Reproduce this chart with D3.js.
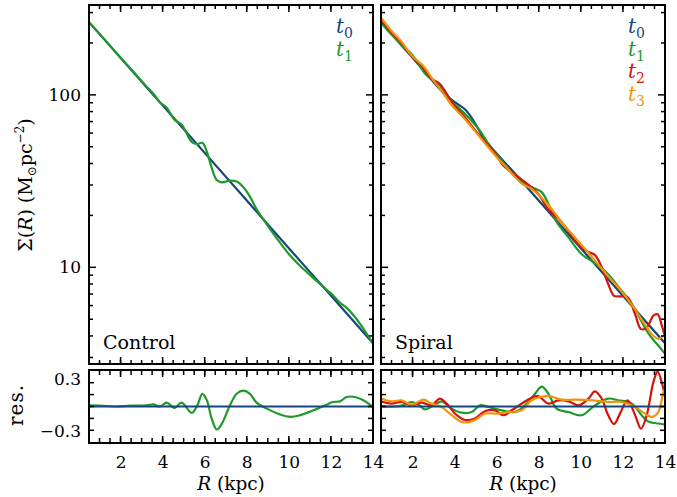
<!DOCTYPE html>
<html><head><meta charset="utf-8">
<script src="https://cdn.jsdelivr.net/npm/d3@7"></script>
<style>body{margin:0;background:#fff}svg{display:block}text{font-family:"DejaVu Serif",serif;fill:#000}</style>
</head><body>
<svg id="c" width="677" height="497"></svg>
<script>
// ---------- data ----------
const xTickLabels = [2, 4, 6, 8, 10, 12, 14];
const yTickLabels = [10, 100];
const resTickLabels = [0.3, -0.3];
const seriesNames = ["t0", "t1", "t2", "t3"];

// Control run
const controlT0R = [0.5, 2, 4, 6, 8, 10, 12, 14];
const controlT0 = [264, 164, 86.9, 46.1, 24.4, 12.9, 6.86, 3.63];
const controlR = [0.5,1.34,1.8,2.45,3.24,3.56,3.88,4.19,4.56,4.9,5.38,5.65,5.89,6.1,6.33,6.57,6.81,7.2,7.52,7.84,8.15,8.47,8.95,9.58,10.06,10.53,11.17,11.8,12.1,12.43,12.75,13.15,13.54,14.0];
const controlT1 = [264,202.9,174.8,143.0,111.6,101.6,90.3,84.4,71.8,67.3,53.4,51.9,52.7,46.9,37.8,32.1,31.1,31.8,31.4,29.1,25.7,21.7,17.76,13.89,11.71,10.21,8.66,7.41,6.88,6.23,5.82,5.13,4.41,3.62];
const controlRes1 = [0.015,0.006,0,0.01,0.015,0.027,0,0.05,-0.02,0.048,-0.08,0.015,0.16,0.08,-0.15,-0.29,-0.22,0.015,0.16,0.2,0.16,0.048,-0.027,-0.1,-0.13,-0.11,-0.048,0.023,0.057,0.065,0.12,0.12,0.078,-0.006];

// Spiral run
const spiralT0R = [0.5, 2, 3.5, 3.9, 4.2, 4.5, 4.8, 5.1, 5.4, 7, 10, 14];
const spiralT0 = [264, 164, 101.9, 92.9, 87.4, 82.3, 73.9, 64.2, 55.7, 33.5, 12.9, 3.63];
const spiralR1 = [0.5,1.17,1.64,1.96,2.27,2.59,3.07,3.38,3.86,4.33,4.81,5.2,5.6,6.24,6.87,7.35,7.82,8.14,8.46,8.85,9.41,10.04,10.67,11.3,11.78,12.42,12.89,13.2,13.84,14];
const spiralT1 = [262,213,186.5,172.1,152.7,133.0,118.5,110.2,91.9,81.0,70.6,62.0,52.1,41.4,33.5,30.3,28.6,27.3,23.3,18.3,14.9,11.9,10.56,9.11,7.72,6.14,4.83,4.16,3.33,3.15];
const spiralRes1 = [0.006,0,0.023,0.057,0.023,-0.036,0.023,0.065,-0.027,-0.078,-0.07,0.015,-0.006,-0.048,-0.07,0.015,0.16,0.25,0.16,-0.027,-0.07,-0.11,0.015,0.1,0.078,0.036,-0.11,-0.19,-0.22,-0.23];
const spiralR2 = [0.5,1.0,1.48,1.96,2.43,2.9,3.3,3.62,4.02,4.49,4.97,5.44,5.92,6.31,6.71,7.19,7.66,7.98,8.46,8.93,9.41,9.9,10.36,10.67,10.99,11.3,11.58,11.86,12.22,12.58,12.86,13.13,13.45,13.65,13.84,14];
const spiralT2 = [272.3,230.3,200.4,167.6,147.4,124.4,115.5,101.4,85.7,74.2,62.3,53.4,45.8,39.0,35.7,32.3,29.1,26.6,21.6,19.1,16.25,13.48,12.28,11.77,10.05,8.0,6.83,6.78,6.71,5.33,4.38,4.47,5.25,5.34,4.64,3.95];
const spiralRes2 = [0.065,0.036,0.057,0.015,0.048,0.015,0.1,0.036,-0.09,-0.17,-0.15,-0.06,-0.048,-0.11,-0.048,0.036,0.11,0.13,0.036,0.078,0.065,0.015,0.1,0.19,0.1,-0.11,-0.22,-0.09,0.078,-0.11,-0.28,-0.11,0.31,0.44,0.31,0.12];
const spiralR3 = [0.5,1.0,1.48,1.96,2.51,2.9,3.38,3.86,4.41,4.97,5.44,6.08,6.55,7.19,7.66,8.46,9.1,9.72,10.52,11.3,11.94,12.58,13.05,13.37,13.68,13.92,14];
const spiralT3 = [280,234.6,203.0,168.5,147.2,126.0,105.4,87.3,74.2,61.6,52.4,42.5,37.0,30.6,28.5,22.9,18.2,14.9,11.5,8.87,7.24,5.68,4.65,4.09,3.85,4.0,4.1];
const spiralRes3 = [0.1,0.065,0.078,0.023,0.086,0.036,-0.006,-0.11,-0.2,-0.17,-0.09,-0.09,-0.07,-0.048,0.078,0.13,0.086,0.086,0.078,0.057,0.057,-0.006,-0.09,-0.13,-0.07,0.18,0.22];
const zeroR = [0.5, 14];
const zeroRes = [0, 0];

// ---------- drawing ----------
const colors = {t0: "#15477c", t1: "#1f9a2a", t2: "#d3160d", t3: "#f39308"};
const svg = d3.select("#c");
const mainTop = 5, mainBot = 364, resTop = 370, resBot = 443;
const yMain = d3.scaleLog().domain([2.75, 332]).range([mainBot, mainTop]);
const yRes = d3.scaleLinear().domain([-0.46, 0.46]).range([resBot, resTop]);

const xMinor = d3.range(0.5, 14.01, 0.5);
const yMinorMain = [3,4,5,6,7,8,9,20,30,40,50,60,70,80,90,200,300];
const yTicksRes = [-0.3, -0.15, 0, 0.15, 0.3];

const panels = [
  {x: d3.scaleLinear().domain([0.5, 14]).range([89, 373]), label: "Control",
   main: [[controlT0R, controlT0, "t0"], [controlR, controlT1, "t1"]],
   res: [[controlR, controlRes1, "t1"], [zeroR, zeroRes, "t0"]],
   legend: ["t0", "t1"]},
  {x: d3.scaleLinear().domain([0.5, 14]).range([381, 665]), label: "Spiral",
   main: [[spiralT0R, spiralT0, "t0"], [spiralR1, spiralT1, "t1"], [spiralR2, spiralT2, "t2"], [spiralR3, spiralT3, "t3"]],
   res: [[spiralR1, spiralRes1, "t1"], [spiralR2, spiralRes2, "t2"], [spiralR3, spiralRes3, "t3"], [zeroR, zeroRes, "t0"]],
   legend: ["t0", "t1", "t2", "t3"]}
];

function tickLines(g, x, y, xMaj, xMin, yMaj, yMin, L, l) {
  const [xl, xr] = x.range(); const [yb, yt] = y.range();
  const seg = (x1, y1, x2, y2) => g.append("line").attr("x1", x1).attr("y1", y1).attr("x2", x2).attr("y2", y2)
    .attr("stroke", "#000").attr("stroke-width", 1.5);
  xMin.forEach(v => { seg(x(v), yb, x(v), yb - l); seg(x(v), yt, x(v), yt + l); });
  xMaj.forEach(v => { seg(x(v), yb, x(v), yb - L); seg(x(v), yt, x(v), yt + L); });
  yMin.forEach(v => { seg(xl, y(v), xl + l, y(v)); seg(xr, y(v), xr - l, y(v)); });
  yMaj.forEach(v => { seg(xl, y(v), xl + L, y(v)); seg(xr, y(v), xr - L, y(v)); });
}

panels.forEach((p, i) => {
  const x = p.x;
  const g = svg.append("g");
  const cid = "clipM" + i, rid = "clipR" + i;
  const defs = svg.append("defs");
  defs.append("clipPath").attr("id", cid).append("rect")
    .attr("x", x.range()[0]).attr("y", mainTop).attr("width", x.range()[1] - x.range()[0]).attr("height", mainBot - mainTop);
  defs.append("clipPath").attr("id", rid).append("rect")
    .attr("x", x.range()[0]).attr("y", resTop).attr("width", x.range()[1] - x.range()[0]).attr("height", resBot - resTop);

  const lineMain = d3.line().x(d => x(d[0])).y(d => yMain(d[1])).curve(d3.curveCatmullRom.alpha(0.5));
  const lineRes = d3.line().x(d => x(d[0])).y(d => yRes(d[1])).curve(d3.curveCatmullRom.alpha(0.5));

  const gm = g.append("g").attr("clip-path", `url(#${cid})`);
  p.main.forEach(([R, V, k]) => {
    gm.append("path").datum(d3.zip(R, V)).attr("d", lineMain)
      .attr("fill", "none").attr("stroke", colors[k]).attr("stroke-width", 2.2).attr("stroke-linejoin", "round");
  });
  const gr = g.append("g").attr("clip-path", `url(#${rid})`);
  p.res.forEach(([R, V, k]) => {
    gr.append("path").datum(d3.zip(R, V)).attr("d", lineRes)
      .attr("fill", "none").attr("stroke", colors[k]).attr("stroke-width", 2.2).attr("stroke-linejoin", "round");
  });

  // frames + ticks
  tickLines(g, x, yMain, xTickLabels, xMinor, yTickLabels, yMinorMain, 7, 4);
  tickLines(g, x, yRes, xTickLabels, xMinor, [], yTicksRes, 7, 5);
  [[mainTop, mainBot], [resTop, resBot]].forEach(([a, b]) => {
    g.append("rect").attr("x", x.range()[0]).attr("y", a).attr("width", x.range()[1] - x.range()[0])
      .attr("height", b - a).attr("fill", "none").attr("stroke", "#000").attr("stroke-width", 2);
  });

  // x tick labels
  const ax = g.append("g").attr("transform", `translate(0,${resBot})`)
    .call(d3.axisBottom(x).tickValues(xTickLabels).tickSize(0).tickPadding(13).tickFormat(d3.format("d")));
  ax.select(".domain").remove();
  ax.selectAll("text").attr("font-family", "DejaVu Serif").attr("font-size", 17).attr("fill", "#000");

  // x title
  const xt = g.append("text").attr("x", (x.range()[0] + x.range()[1]) / 2).attr("y", 490)
    .attr("text-anchor", "middle").attr("font-size", 18.5);
  xt.append("tspan").attr("font-style", "italic").text("R");
  xt.append("tspan").text(" (kpc)");

  // panel label
  g.append("text").attr("x", x.range()[0] + 14).attr("y", 349).attr("font-size", 19).text(p.label);

  // legend
  p.legend.forEach((k, j) => {
    const t = g.append("text").attr("x", x.range()[1] - 20).attr("y", 33 + j * 22.5)
      .attr("text-anchor", "end").attr("fill", colors[k]).style("fill", colors[k]);
    t.append("tspan").attr("font-style", "italic").attr("font-size", 20).text(k[0]);
    t.append("tspan").attr("font-size", 14).attr("dy", 5).text(k.slice(1));
  });
});

// y axis labels (left panel only)
const xl0 = panels[0].x.range()[0];
const ay = svg.append("g").attr("transform", `translate(${xl0},0)`)
  .call(d3.axisLeft(yMain).tickValues(yTickLabels).tickSize(0).tickPadding(8).tickFormat(d3.format("d")));
ay.select(".domain").remove();
ay.selectAll("text").attr("font-family", "DejaVu Serif").attr("font-size", 17).attr("fill", "#000");

const ar = svg.append("g").attr("transform", `translate(${xl0},0)`)
  .call(d3.axisLeft(yRes).tickValues(resTickLabels).tickSize(0).tickPadding(8).tickFormat(d3.format(".1f")));
ar.select(".domain").remove();
ar.selectAll("text").attr("font-family", "DejaVu Serif").attr("font-size", 17).attr("fill", "#000")
  .attr("dy", d => d > 0 ? "0.1em" : "0.38em");

// y titles
const yt = svg.append("text").attr("transform", "translate(32,185) rotate(-90)")
  .attr("text-anchor", "middle").attr("font-size", 19);
yt.append("tspan").text("Σ(");
yt.append("tspan").attr("font-style", "italic").text("R");
yt.append("tspan").text(")  (M");
yt.append("tspan").attr("font-size", 12).attr("dy", 4).text("⊙");
yt.append("tspan").attr("dy", -4).text("pc");
yt.append("tspan").attr("font-size", 12).attr("dy", -8).text("−2");
yt.append("tspan").attr("dy", 8).text(")");

svg.append("text").attr("transform", "translate(23,405) rotate(-90)")
  .attr("text-anchor", "middle").attr("font-size", 20).attr("letter-spacing", 1).text("res.");
</script>
</body></html>
